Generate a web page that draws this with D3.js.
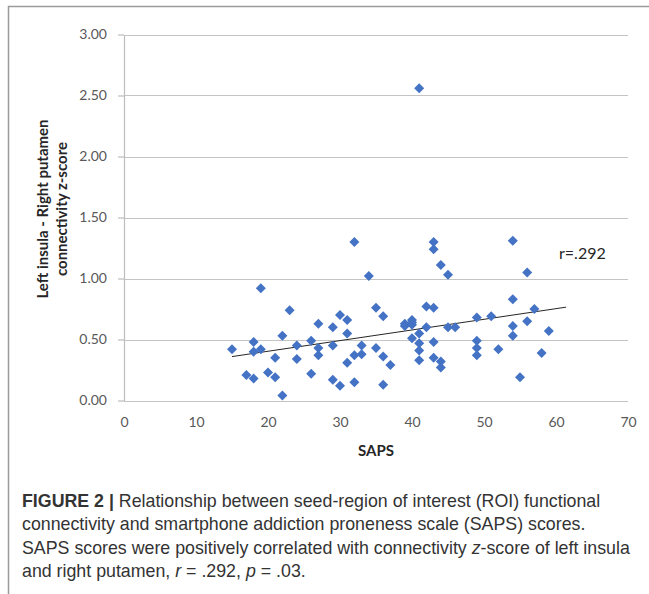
<!DOCTYPE html>
<html>
<head>
<meta charset="utf-8">
<script src="https://cdn.jsdelivr.net/npm/d3@7.9.0/dist/d3.min.js"></script>
<style>
  html, body { margin: 0; padding: 0; background: #fff; }
  svg { display: block; }
</style>
</head>
<body>
<div id="chart"></div>
<script>
// SAPS score (x) vs left insula - right putamen connectivity z-score (y)
const saps = [15, 17, 18, 18, 18, 19, 19, 20, 21, 21, 22, 22, 23, 24, 24, 26, 26,
  27, 27, 27, 29, 29, 29, 30, 30, 31, 31, 31, 32, 32, 32, 33, 33, 34, 35, 35,
  36, 36, 36, 37, 39, 39, 40, 40, 40, 40, 41, 41, 41, 41, 41, 42, 42, 43, 43,
  43, 43, 43, 44, 44, 44, 45, 45, 46, 49, 49, 49, 49, 51, 52, 54, 54, 54, 54,
  55, 56, 56, 57, 58, 59];
const zscore = [0.42, 0.21, 0.48, 0.40, 0.18, 0.92, 0.42, 0.23, 0.35, 0.19, 0.53, 0.04, 0.74, 0.45, 0.34, 0.49, 0.22,
  0.63, 0.43, 0.37, 0.60, 0.45, 0.17, 0.70, 0.12, 0.66, 0.55, 0.31, 1.30, 0.37, 0.15, 0.45, 0.38, 1.02, 0.76, 0.43,
  0.69, 0.36, 0.13, 0.29, 0.61, 0.63, 0.66, 0.62, 0.51, 0.64, 2.56, 0.55, 0.47, 0.41, 0.33, 0.77, 0.60, 1.30, 1.24,
  0.76, 0.48, 0.35, 1.11, 0.32, 0.27, 1.03, 0.60, 0.60, 0.68, 0.49, 0.43, 0.37, 0.69, 0.42, 1.31, 0.83, 0.61, 0.53,
  0.19, 1.05, 0.65, 0.75, 0.39, 0.57];
// linear trendline end points (x, y)
const trendX = [15, 61.4];
const trendY = [0.36, 0.765];
const xTicks = [0, 10, 20, 30, 40, 50, 60, 70];
const yTicks = [0, 0.5, 1, 1.5, 2, 2.5, 3];
const yTitle = ['Left insula - Right putamen', 'connectivity z-score'];
const xTitle = 'SAPS';
const rLabel = 'r=.292';

const width = 649, height = 594;
const chartFont = 'Lato, "Open Sans", sans-serif';
const capFont = '"Liberation Sans", Arial, sans-serif';

const svg = d3.select('#chart').append('svg')
  .attr('width', width)
  .attr('height', height);

// frame
svg.append('rect')
  .attr('x', 8.5).attr('y', 6.5)
  .attr('width', 660).attr('height', 600)
  .attr('fill', 'none')
  .attr('stroke', '#9a9a9a')
  .attr('stroke-width', 1.5);

const plot = { left: 124, right: 628, top: 34.5, bottom: 400.5 };

const x = d3.scaleLinear().domain([0, 70]).range([plot.left, plot.right]);
const y = d3.scaleLinear().domain([0, 3]).range([plot.bottom, plot.top]);

// gridlines
svg.append('g')
  .selectAll('line')
  .data(yTicks)
  .join('line')
    .attr('x1', plot.left).attr('x2', plot.right)
    .attr('y1', d => Math.round(y(d)) + 0.5)
    .attr('y2', d => Math.round(y(d)) + 0.5)
    .attr('stroke', '#c4c4c4')
    .attr('stroke-width', 1.2);

// y axis
const yAxis = svg.append('g')
  .attr('transform', `translate(${plot.left},0)`)
  .call(d3.axisLeft(y).tickValues(yTicks).tickFormat(d3.format('.2f'))
    .tickSize(6).tickSizeOuter(0).tickPadding(11));
yAxis.select('.domain').attr('stroke', '#bdbdbd').attr('stroke-width', 1.2);
yAxis.selectAll('.tick line').attr('stroke', '#bdbdbd').attr('stroke-width', 1.2);
yAxis.selectAll('.tick text')
  .attr('fill', '#595959')
  .style('font-family', chartFont)
  .style('font-size', '14px');

// x axis (labels only, bottom gridline acts as axis line)
const xAxis = svg.append('g')
  .attr('transform', `translate(0,${plot.bottom})`)
  .call(d3.axisBottom(x).tickValues(xTicks).tickFormat(d3.format('d'))
    .tickSize(0).tickPadding(17));
xAxis.select('.domain').remove();
xAxis.selectAll('.tick text')
  .attr('fill', '#595959')
  .style('font-family', chartFont)
  .style('font-size', '14px');

// axis titles
svg.append('text')
  .attr('x', (plot.left + plot.right) / 2)
  .attr('y', 456)
  .attr('text-anchor', 'middle')
  .attr('fill', '#262626')
  .style('font-family', chartFont)
  .style('font-weight', 'bold')
  .style('font-size', '15px')
  .text(xTitle);

yTitle.forEach((t, i) => {
  svg.append('text')
    .attr('transform', `translate(${48 + i * 19},209) rotate(-90)`)
    .attr('text-anchor', 'middle')
    .attr('fill', '#262626')
    .style('font-family', chartFont)
    .style('font-weight', 'bold')
    .style('font-size', '15px')
    .text(t);
});

// trendline
svg.append('line')
  .attr('x1', x(trendX[0])).attr('y1', y(trendY[0]))
  .attr('x2', x(trendX[1])).attr('y2', y(trendY[1]))
  .attr('stroke', '#262626')
  .attr('stroke-width', 1);

// points (diamonds)
const pts = saps.map((s, i) => ({ s, z: zscore[i] }));
const diamond = d3.symbol().type(d3.symbolSquare).size(50);
svg.append('g')
  .selectAll('path')
  .data(pts)
  .join('path')
    .attr('d', diamond)
    .attr('transform', d => `translate(${x(d.s)},${y(d.z)}) rotate(45)`)
    .attr('fill', '#4472c4');

// r label
svg.append('text')
  .attr('x', 559)
  .attr('y', 259)
  .attr('fill', '#262626')
  .style('font-family', chartFont)
  .style('font-size', '16px')
  .text(rLabel);

// caption
const cap = svg.append('g')
  .style('font-family', capFont)
  .style('font-size', '17.8px')
  .attr('fill', '#333');

const l1 = cap.append('text').attr('x', 22).attr('y', 507);
l1.append('tspan').style('font-weight', 'bold').text('FIGURE 2 | ');
l1.append('tspan').text('Relationship between seed-region of interest (ROI) functional');

cap.append('text').attr('x', 22).attr('y', 530)
  .text('connectivity and smartphone addiction proneness scale (SAPS) scores.');

const l3 = cap.append('text').attr('x', 22).attr('y', 554);
l3.append('tspan').text('SAPS scores were positively correlated with connectivity ');
l3.append('tspan').style('font-style', 'italic').text('z');
l3.append('tspan').text('-score of left insula');

const l4 = cap.append('text').attr('x', 22).attr('y', 577);
l4.append('tspan').text('and right putamen, ');
l4.append('tspan').style('font-style', 'italic').text('r');
l4.append('tspan').text(' = .292, ');
l4.append('tspan').style('font-style', 'italic').text('p');
l4.append('tspan').text(' = .03.');
</script>
</body>
</html>
